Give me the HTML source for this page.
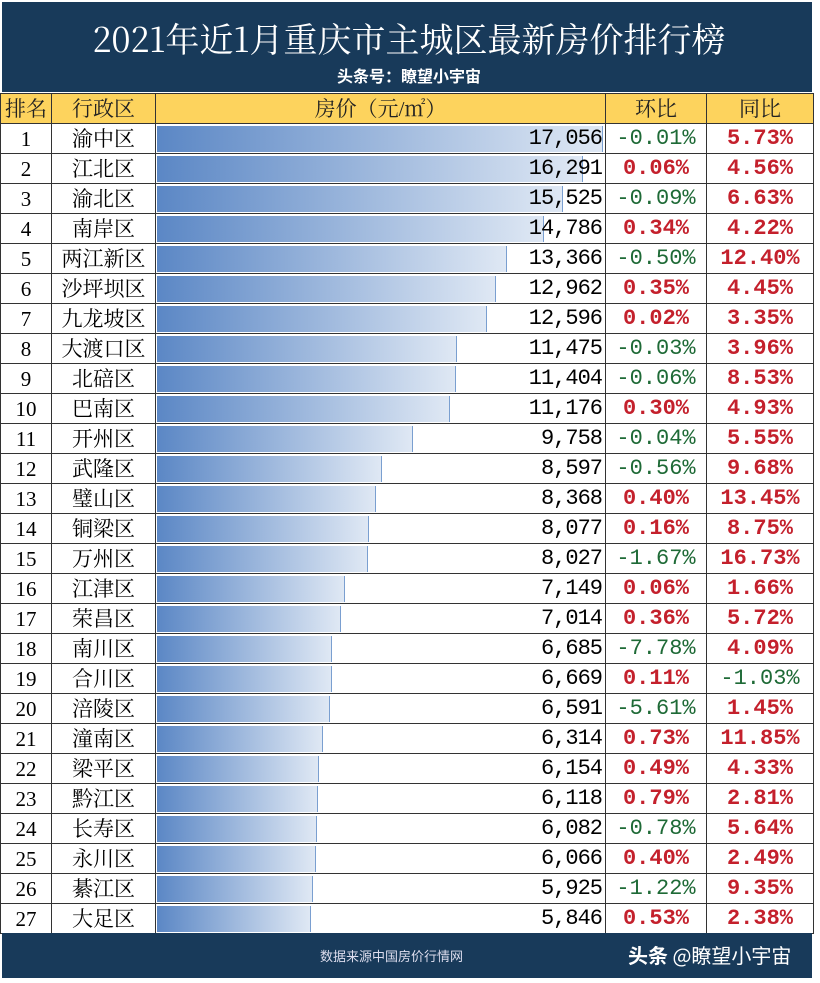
<!DOCTYPE html><html><head><meta charset="utf-8"><style>
body{margin:0;width:820px;height:983px;background:#fff;position:relative;overflow:hidden;font-family:"Liberation Serif","Noto Serif CJK SC",serif}
.hd{position:absolute;left:2px;top:2px;width:810px;height:90px;background:#183a5a}
.t1{position:absolute;left:0;width:814px;top:16px;text-align:center;color:#fff;font-size:34px;line-height:40px;font-family:"Noto Serif CJK SC","Liberation Serif",serif}
.t2{position:absolute;left:0;width:814px;top:61px;text-align:center;color:#fff;font-size:16px;font-weight:bold;font-family:"Noto Sans CJK SC",sans-serif}
table{position:absolute;left:0;top:93px;border-collapse:collapse;width:813px;table-layout:fixed}
td{border:1px solid #333;height:29px;padding:0;font-size:21px;text-align:center;white-space:nowrap;line-height:28px}
tr.h td{background:#fdd35d;color:#222}
.p{position:relative;text-align:right;padding-right:3px;font-family:"Liberation Mono",monospace;font-size:22px;letter-spacing:-1px}
.b{position:absolute;left:1px;top:2px;height:26px;background:linear-gradient(90deg,#5b87c5,#dfe8f4);border-right:1px solid #7a9fd0}
.p span{position:relative}
.m{font-family:"Liberation Mono",monospace;font-size:22px}
.g{color:#1e6a36}.r{color:#c4202c;font-weight:bold}
.ft{position:absolute;left:2px;top:933px;width:810px;height:45px;background:#183a5a;color:#fff}
</style></head><body>
<div class="hd"><div class="t1">2021年近1月重庆市主城区最新房价排行榜</div><div class="t2">头条号：瞭望小宇宙</div></div>
<table>
<colgroup><col style="width:51px"><col style="width:104px"><col style="width:450px"><col style="width:101px"><col style="width:107px"></colgroup>
<tr class="h"><td>排名</td><td>行政区</td><td>房价（元/㎡）</td><td>环比</td><td>同比</td></tr>
<tbody id="tb"></tbody>
</table>
<div class="ft"><div style="position:absolute;left:318px;top:13px;font-size:13px;font-family:'Noto Sans CJK SC',sans-serif;color:#dde">数据来源中国房价行情网</div><div style="position:absolute;left:626px;top:7px;font-size:20px;font-family:'Noto Sans CJK SC',sans-serif"><b>头条</b> @瞭望小宇宙</div></div>
<script>
var d=[["渝中区",17056,"-0.01%","5.73%"],["江北区",16291,"0.06%","4.56%"],["渝北区",15525,"-0.09%","6.63%"],["南岸区",14786,"0.34%","4.22%"],["两江新区",13366,"-0.50%","12.40%"],["沙坪坝区",12962,"0.35%","4.45%"],["九龙坡区",12596,"0.02%","3.35%"],["大渡口区",11475,"-0.03%","3.96%"],["北碚区",11404,"-0.06%","8.53%"],["巴南区",11176,"0.30%","4.93%"],["开州区",9758,"-0.04%","5.55%"],["武隆区",8597,"-0.56%","9.68%"],["璧山区",8368,"0.40%","13.45%"],["铜梁区",8077,"0.16%","8.75%"],["万州区",8027,"-1.67%","16.73%"],["江津区",7149,"0.06%","1.66%"],["荣昌区",7014,"0.36%","5.72%"],["南川区",6685,"-7.78%","4.09%"],["合川区",6669,"0.11%","-1.03%"],["涪陵区",6591,"-5.61%","1.45%"],["潼南区",6314,"0.73%","11.85%"],["梁平区",6154,"0.49%","4.33%"],["黔江区",6118,"0.79%","2.81%"],["长寿区",6082,"-0.78%","5.64%"],["永川区",6066,"0.40%","2.49%"],["綦江区",5925,"-1.22%","9.35%"],["大足区",5846,"0.53%","2.38%"]];
var h="";d.forEach(function(r,i){function c(v){return v[0]=="-"?"g":"r"}
h+='<tr><td>'+(i+1)+'</td><td>'+r[0]+'</td><td class="p"><div class="b" style="width:'+Math.round(r[1]*0.0261)+'px"></div><span>'+r[1].toLocaleString("en-US")+'</span></td><td class="m '+c(r[2])+'">'+r[2]+'</td><td class="m '+c(r[3])+'">'+r[3]+'</td></tr>'});
document.getElementById("tb").innerHTML=h;
</script>
</body></html>
